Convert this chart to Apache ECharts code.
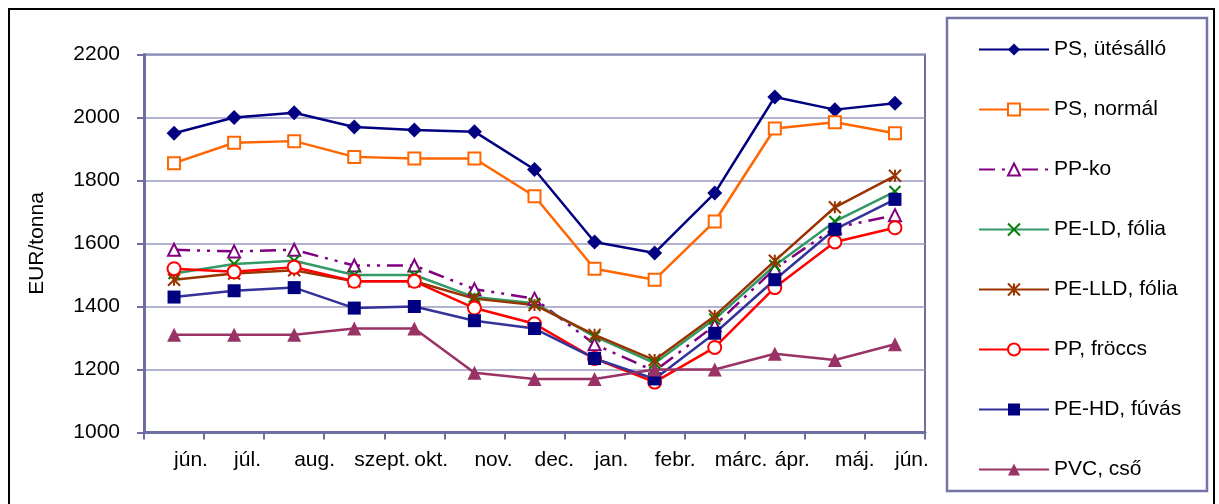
<!DOCTYPE html>
<html>
<head>
<meta charset="utf-8">
<script src="https://cdn.jsdelivr.net/npm/echarts@6/dist/echarts.min.js"></script>
<style>
html,body{margin:0;padding:0;background:#fff;}
#chart{width:1219px;height:504px;}
</style>
</head>
<body>
<div id="chart"></div>
<script>
var months = ['jún.', 'júl.', 'aug.', 'szept.', 'okt.', 'nov.', 'dec.', 'jan.', 'febr.', 'márc.', 'ápr.', 'máj.', 'jún.'];
var yTicks = { min: 1000, max: 2200, step: 200 };
var yName = 'EUR/tonna';

var psUtesallo = [1950, 2000, 2015, 1970, 1960, 1955, 1835, 1605, 1570, 1760, 2065, 2025, 2045];
var psNormal   = [1855, 1920, 1925, 1875, 1870, 1870, 1750, 1520, 1485, 1670, 1965, 1985, 1950];
var ppKo       = [1580, 1575, 1580, 1530, 1530, 1455, 1425, 1280, 1195, 1340, 1520, 1650, 1690];
var peLdFolia  = [1505, 1535, 1545, 1500, 1500, 1430, 1410, 1305, 1220, 1360, 1530, 1670, 1765];
var peLldFolia = [1485, 1505, 1515, 1480, 1480, 1425, 1405, 1310, 1230, 1370, 1545, 1715, 1815];
var ppFroccs   = [1520, 1510, 1525, 1480, 1480, 1395, 1345, 1235, 1160, 1270, 1460, 1605, 1650];
var peHdFuvas  = [1430, 1450, 1460, 1395, 1400, 1355, 1330, 1235, 1170, 1315, 1485, 1645, 1740];
var pvcCso     = [1310, 1310, 1310, 1330, 1330, 1190, 1170, 1170, 1200, 1200, 1250, 1230, 1280];

var names = ['PS, ütésálló', 'PS, normál', 'PP-ko', 'PE-LD, fólia', 'PE-LLD, fólia', 'PP, fröccs', 'PE-HD, fúvás', 'PVC, cső'];

var FONT = 'Liberation Sans, Arial, sans-serif';
var FS = 21;
var crossPath = 'path://M0,0L10,10M10,0L0,10';
var starPath = 'path://M0,0L10,10M10,0L0,10M5,0L5,10';

function mk(name, data, line, lineType, symbol, fill, border, bw, size) {
  return {
    name: name, type: 'line', data: data,
    symbol: symbol, symbolSize: size || 13,
    lineStyle: { color: line, width: 2.5, type: lineType || 'solid' },
    itemStyle: { color: fill, borderColor: border, borderWidth: bw },
    emphasis: { disabled: true },
    z: 3
  };
}

var series = [
  mk(names[0], psUtesallo, '#000080', 'solid', 'diamond', '#000080', '#000080', 0, 15),
  mk(names[1], psNormal, '#FF6600', 'solid', 'rect', '#ffffff', '#FF6600', 2, 12),
  mk(names[2], ppKo, '#800080', [16, 7, 3, 7, 3, 7], 'triangle', '#ffffff', '#800080', 2, 12),
  mk(names[3], peLdFolia, '#339966', 'solid', crossPath, '#008000', '#008000', 2, 11),
  mk(names[4], peLldFolia, '#993300', 'solid', starPath, '#993300', '#993300', 2, 12),
  mk(names[5], ppFroccs, '#FF0000', 'solid', 'circle', '#ffffff', '#FF0000', 2, 13),
  mk(names[6], peHdFuvas, '#333399', 'solid', 'rect', '#000080', '#000080', 0, 13),
  mk(names[7], pvcCso, '#993366', 'solid', 'triangle', '#993366', '#993366', 0, 14)
];

var chart = echarts.init(document.getElementById('chart'), null, { renderer: 'canvas' });
chart.setOption({
  animation: false,
  backgroundColor: '#ffffff',
  textStyle: { fontFamily: FONT },
  grid: {
    left: 144, right: 294, top: 54.5, bottom: 71.5,
    show: true, borderColor: '#6e6ea0', borderWidth: 2, backgroundColor: 'transparent'
  },
  legend: {
    orient: 'vertical', left: 973, top: 34,
    itemWidth: 70, itemHeight: 15, itemGap: 39,
    textStyle: { fontSize: FS, color: '#000', fontFamily: FONT, lineHeight: 19 },
    data: names,
    selectedMode: false
  },
  xAxis: {
    type: 'category', data: months, boundaryGap: true,
    axisLine: { show: true, lineStyle: { color: '#6e6ea0', width: 3 } },
    axisTick: { show: true, inside: false, length: 7, lineStyle: { color: '#6e6ea0', width: 2 } },
    axisLabel: { interval: 0, align: 'left', margin: 17, fontSize: FS, color: '#000', fontFamily: FONT },
    splitLine: { show: false }
  },
  yAxis: {
    type: 'value', min: yTicks.min, max: yTicks.max, interval: yTicks.step,
    name: yName, nameLocation: 'middle', nameGap: 96,
    nameTextStyle: { fontSize: FS, color: '#000', fontFamily: FONT },
    axisLine: { show: true, lineStyle: { color: '#6e6ea0', width: 3 } },
    axisTick: { show: true, inside: false, length: 7, lineStyle: { color: '#6e6ea0', width: 2 } },
    axisLabel: { margin: 24, fontSize: FS, color: '#000', fontFamily: FONT, formatter: function (v) { return String(v); } },
    splitLine: { show: true, lineStyle: { color: '#9a9ac2', width: 1.5 } }
  },
  graphic: [
    { type: 'rect', shape: { x: 9, y: 9, width: 1205, height: 520 }, style: { fill: 'none', stroke: '#000', lineWidth: 2 }, silent: true, z: -1 },
    { type: 'rect', shape: { x: 947, y: 18, width: 260, height: 473 }, style: { fill: 'none', stroke: '#7474a6', lineWidth: 2.5 }, silent: true, z: -1 }
  ],
  series: series
});
</script>
</body>
</html>
